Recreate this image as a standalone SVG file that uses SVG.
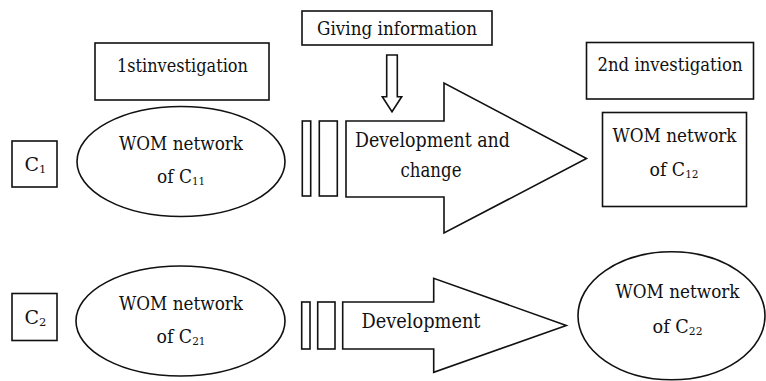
<svg xmlns="http://www.w3.org/2000/svg" width="766" height="381" viewBox="0 0 766 381">
  <style>
    .shape { fill: #fff; stroke: #111; stroke-width: 1.6; stroke-linejoin: miter; }
    .label { font-family: "DejaVu Serif", serif; font-size: 19px; fill: #111; text-anchor: middle; }
    .big { font-size: 20px; }
    .lab-start { text-anchor: start; }
    .sub { font-size: 11.5px; }
  </style>
  <rect width="766" height="381" fill="#fff"/>

  <!-- stage labels -->
  <g id="giving-information">
    <rect class="shape" x="302" y="11" width="190" height="34"/>
    <text class="label" x="397" y="35" textLength="160" lengthAdjust="spacingAndGlyphs">Giving information</text>
  </g>
  <g id="first-investigation">
    <rect class="shape" x="95" y="43" width="174" height="57"/>
    <text class="label" x="182.5" y="72" textLength="131" lengthAdjust="spacingAndGlyphs">1stinvestigation</text>
  </g>
  <g id="second-investigation">
    <rect class="shape" x="586.5" y="42.5" width="167" height="56.5"/>
    <text class="label" x="670" y="71" textLength="145" lengthAdjust="spacingAndGlyphs">2nd investigation</text>
  </g>

  <!-- company 1 row -->
  <g id="c1">
    <rect class="shape" x="12" y="141" width="45" height="46"/>
    <text class="label lab-start" x="24.5" y="170.5">C<tspan class="sub" dy="2">1</tspan></text>
  </g>
  <g id="c11">
    <ellipse class="shape" cx="181" cy="161.5" rx="104" ry="55"/>
    <text class="label" x="181" y="150" textLength="124" lengthAdjust="spacingAndGlyphs">WOM network</text>
    <text class="label" x="181" y="183" textLength="48" lengthAdjust="spacingAndGlyphs">of C<tspan class="sub" dy="2">11</tspan></text>
  </g>
  <g id="c12">
    <rect class="shape" x="602.5" y="112.5" width="144" height="94"/>
    <text class="label" x="674.5" y="141.5" textLength="124" lengthAdjust="spacingAndGlyphs">WOM network</text>
    <text class="label" x="674" y="176" textLength="49" lengthAdjust="spacingAndGlyphs">of C<tspan class="sub" dy="2">12</tspan></text>
  </g>

  <!-- company 2 row -->
  <g id="c2">
    <rect class="shape" x="12" y="293.5" width="45" height="47"/>
    <text class="label lab-start" x="24.5" y="324">C<tspan class="sub" dy="2">2</tspan></text>
  </g>
  <g id="c21">
    <ellipse class="shape" cx="180.5" cy="321" rx="104.5" ry="55"/>
    <text class="label" x="181" y="309.5" textLength="124" lengthAdjust="spacingAndGlyphs">WOM network</text>
    <text class="label" x="181" y="342.5" textLength="49" lengthAdjust="spacingAndGlyphs">of C<tspan class="sub" dy="2">21</tspan></text>
  </g>
  <g id="c22">
    <ellipse class="shape" cx="671.5" cy="315.8" rx="93.5" ry="64"/>
    <text class="label" x="677.5" y="297.5" textLength="124" lengthAdjust="spacingAndGlyphs">WOM network</text>
    <text class="label" x="677.5" y="332.5" textLength="50" lengthAdjust="spacingAndGlyphs">of C<tspan class="sub" dy="2">22</tspan></text>
  </g>

  <!-- connectors: block arrows and bars -->
  <g id="connectors">
    <polygon class="shape" points="386.7,55 397.3,55 397.3,96.7 401.7,96.7 392,111.7 382.3,96.7 386.7,96.7"/>

    <rect class="shape" x="302.3" y="121" width="8.4" height="75"/>
    <rect class="shape" x="319.3" y="121" width="18" height="75"/>
    <polygon class="shape" points="346,121 444,121 444,83 586.5,158.5 444,233 444,197 346,197"/>
    <text class="label big" x="432.5" y="146.5" textLength="155" lengthAdjust="spacingAndGlyphs">Development and</text>
    <text class="label big" x="431" y="177" textLength="61" lengthAdjust="spacingAndGlyphs">change</text>

    <rect class="shape" x="301.7" y="302" width="8.3" height="47"/>
    <rect class="shape" x="317.7" y="302" width="17.3" height="47"/>
    <polygon class="shape" points="342.7,302 433.7,302 433.7,278.3 566.3,325.5 433.7,372.3 433.7,349 342.7,349"/>
    <text class="label big" x="421" y="328" textLength="119" lengthAdjust="spacingAndGlyphs">Development</text>
  </g>
</svg>
